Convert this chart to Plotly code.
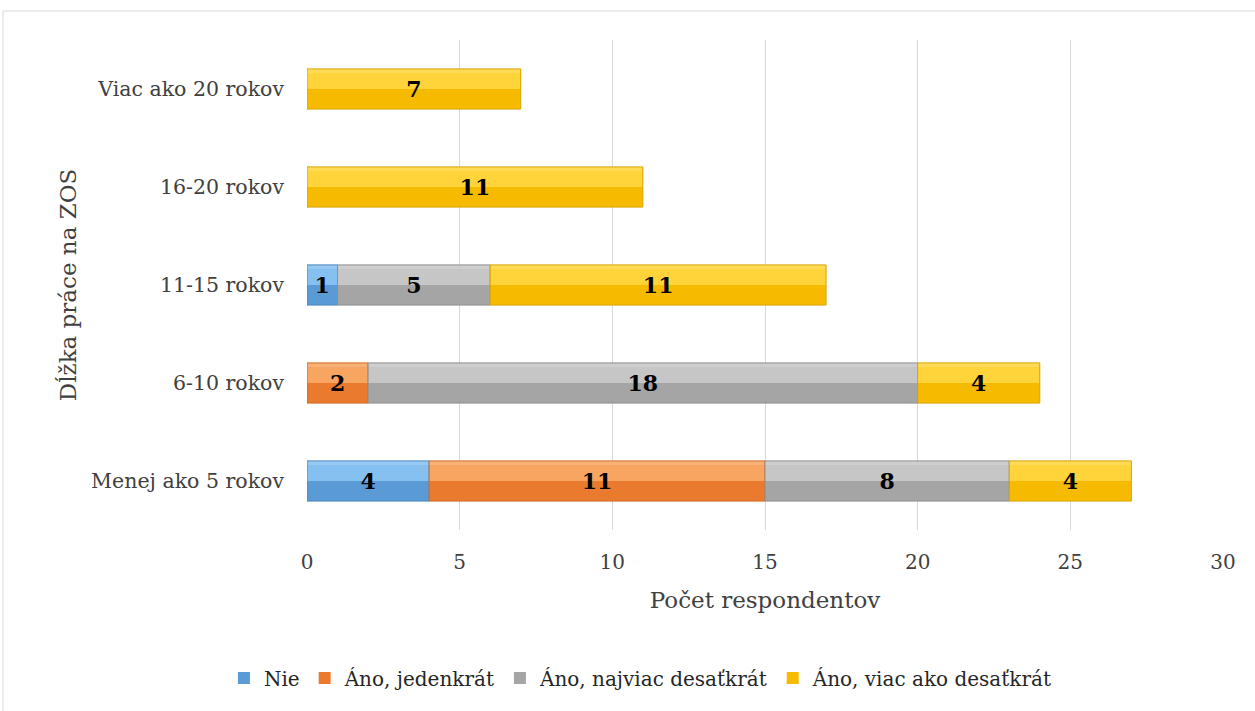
import plotly.graph_objects as go

# Survey: length of work at ZOS vs. answer categories
categories = ["Menej ako 5 rokov", "6-10 rokov", "11-15 rokov", "16-20 rokov", "Viac ako 20 rokov"]
series_names = ["Nie", "Áno, jedenkrát", "Áno, najviac desaťkrát", "Áno, viac ako desaťkrát"]
nie = [4, 0, 1, 0, 0]
ano_jedenkrat = [11, 2, 0, 0, 0]
ano_najviac_10 = [8, 18, 5, 0, 0]
ano_viac_10 = [4, 4, 11, 11, 7]
x_ticks = [0, 5, 10, 15, 20, 25, 30]

series = [nie, ano_jedenkrat, ano_najviac_10, ano_viac_10]
# (lower tone, upper highlight tone, edge tone)
palette = [
    ("#5b9bd5", "#86c0f0", "#4a86be"),
    ("#ea7a2e", "#f7a560", "#d06a25"),
    ("#a5a5a5", "#c6c6c6", "#8f8f8f"),
    ("#f6ba00", "#ffd43a", "#d9a400"),
]

FONT = "DejaVu Serif"
BAR_W = 0.41

fig = go.Figure()
bases = [0] * len(categories)
for name, vals, (low, high, edge) in zip(series_names, series, palette):
    b = list(bases)
    # lower (darker) body of the bevelled bar
    fig.add_trace(go.Bar(
        y=categories, x=vals, base=b, orientation="h", name=name,
        width=BAR_W, marker=dict(color=low, line=dict(width=0)),
        showlegend=True, legendgroup=name, hoverinfo="skip",
    ))
    # upper (lighter) half
    fig.add_trace(go.Bar(
        y=categories, x=vals, base=b, orientation="h", name=name,
        width=BAR_W * 0.5, offset=0.0, marker=dict(color=high, line=dict(width=0)),
        showlegend=False, legendgroup=name, hoverinfo="skip",
    ))
    # thin top highlight strip
    fig.add_trace(go.Bar(
        y=categories, x=vals, base=b, orientation="h", name=name,
        width=BAR_W * 0.1, offset=BAR_W * 0.4,
        marker=dict(color="rgba(255,255,255,0.15)", line=dict(width=0)),
        showlegend=False, legendgroup=name, hoverinfo="skip",
    ))
    # outline and value label on top
    fig.add_trace(go.Bar(
        y=categories, x=vals, base=b, orientation="h", name=name,
        width=BAR_W, marker=dict(color="rgba(0,0,0,0)", line=dict(color=edge, width=1)),
        text=[str(v) if v else "" for v in vals], textposition="inside",
        insidetextanchor="middle", constraintext="none",
        textfont=dict(family=FONT, size=22, color="black", weight="bold"),
        showlegend=False, legendgroup=name, hovertemplate="%{y}: %{x}<extra>" + name + "</extra>",
    ))
    bases = [p + v for p, v in zip(bases, vals)]

fig.update_layout(
    barmode="overlay",
    width=1255, height=711,
    margin=dict(l=307, r=32, t=40, b=181),
    paper_bgcolor="white", plot_bgcolor="white",
    font=dict(family=FONT, color="#262626"),
    legend=dict(
        orientation="h", x=0.364, xanchor="center", y=-0.302, yanchor="middle",
        font=dict(family=FONT, size=20, color="#262626"),
        itemwidth=30, tracegroupgap=0, traceorder="normal",
    ),
    xaxis=dict(
        range=[0, 30], tickvals=x_ticks, showgrid=True, gridcolor="#d9d9d9", gridwidth=1,
        zeroline=False, showline=False, ticks="",
        ticklabelstandoff=18,
        tickfont=dict(family=FONT, size=20, color="#404040"),
        title=dict(text="Počet respondentov", font=dict(family=FONT, size=23, color="#404040"), standoff=18),
    ),
    yaxis=dict(
        categoryorder="array", categoryarray=categories,
        showgrid=False, zeroline=False, showline=False, ticks="",
        ticklabelstandoff=22,
        tickfont=dict(family=FONT, size=20.5, color="#404040"),
        title=dict(text="Dĺžka práce na ZOS", font=dict(family=FONT, size=23, color="#404040"), standoff=8),
    ),
    shapes=[dict(
        type="rect", xref="paper", yref="paper",
        x0=(3 - 307) / 916, x1=1.2, y0=-0.5, y1=(530 - 11) / 490,
        line=dict(color="#d9d9d9", width=1), fillcolor="rgba(0,0,0,0)", layer="below",
    )],
)

fig.write_html("out.html")
